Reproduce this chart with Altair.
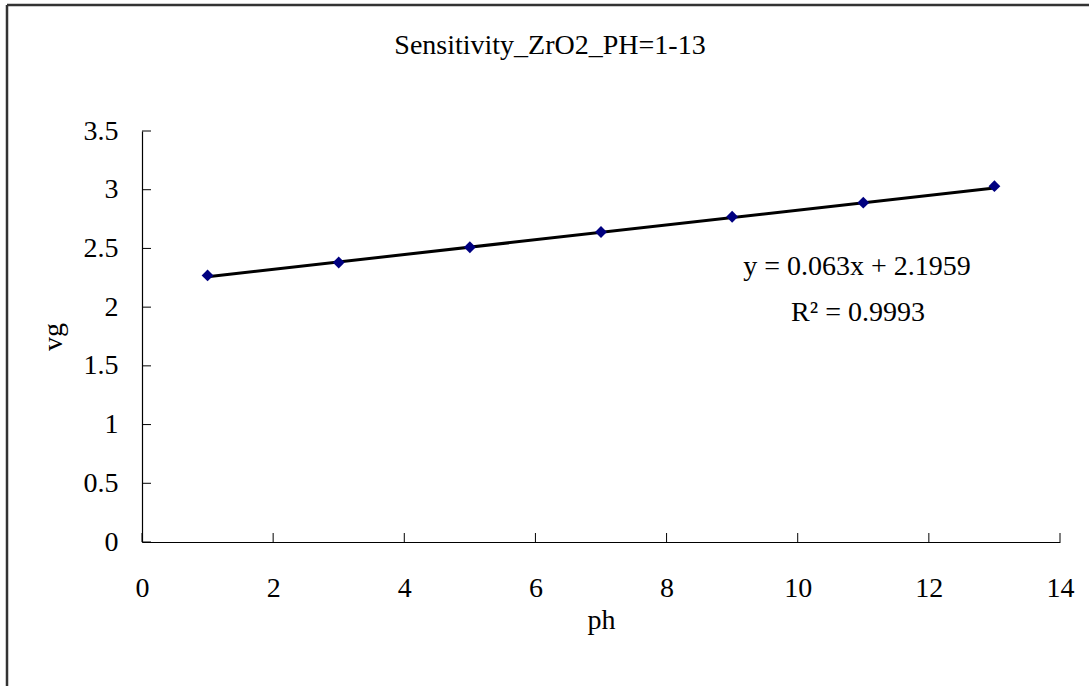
import altair as alt
import pandas as pd

# measured series
ph = [1, 3, 5, 7, 9, 11, 13]
vg = [2.27, 2.38, 2.51, 2.64, 2.77, 2.89, 3.03]

# linear trendline reported on the chart
slope = 0.063
intercept = 2.1959
r_squared = 0.9993

x_ticks = [0, 2, 4, 6, 8, 10, 12, 14]
y_ticks = [0, 0.5, 1, 1.5, 2, 2.5, 3, 3.5]

title_text = "Sensitivity_ZrO2_PH=1-13"
eq_text = f"y = {slope}x + {intercept}"
r2_text = f"R\u00b2 = {r_squared}"

W, H = 918, 411
FONT = "Liberation Serif"
FS = 28

points = pd.DataFrame({"ph": ph, "vg": vg})
trend_x = [ph[0], ph[-1]]
trend = pd.DataFrame({"ph": trend_x, "vg": [slope * x + intercept for x in trend_x]})

x_scale = alt.Scale(domain=[0, 14], nice=False, zero=False)
y_scale = alt.Scale(domain=[0, 3.5], nice=False, zero=False)

x_axis = alt.Axis(values=x_ticks, format="~g", ticks=False, tickSize=0, grid=False,
                  domainColor="black", domainWidth=1.2,
                  labelFont=FONT, labelFontSize=FS, labelColor="black",
                  labelBaseline="middle", labelPadding=46, labelFlush=False,
                  title="ph", titleFont=FONT, titleFontSize=FS, titleFontWeight="normal",
                  titleColor="black", titleY=78, titleBaseline="middle")
y_axis = alt.Axis(values=y_ticks, format="~g", ticks=False, tickSize=0, grid=False,
                  domainColor="black", domainWidth=1.2,
                  labelFont=FONT, labelFontSize=FS, labelColor="black",
                  labelPadding=24, labelFlush=False,
                  title="vg", titleFont=FONT, titleFontSize=FS, titleFontWeight="normal",
                  titleColor="black", titleX=-89, titleY=H / 2, titleAngle=-90,
                  titleBaseline="middle")

base_x = alt.X("ph:Q", scale=x_scale, axis=x_axis)
base_y = alt.Y("vg:Q", scale=y_scale, axis=y_axis)

line = alt.Chart(trend).mark_line(color="black", strokeWidth=3).encode(x=base_x, y=base_y)

dots = alt.Chart(points).mark_point(shape="diamond", filled=True, color="#000080",
                                    size=140, opacity=1).encode(
    x=alt.X("ph:Q", scale=x_scale), y=alt.Y("vg:Q", scale=y_scale))

# inward-pointing tick marks
xt = alt.Chart(pd.DataFrame({"t": x_ticks})).mark_rule(color="black", strokeWidth=1).encode(
    x=alt.X("t:Q", scale=x_scale), y=alt.value(H), y2=alt.value(H - 9))
yt = alt.Chart(pd.DataFrame({"t": y_ticks})).mark_rule(color="black", strokeWidth=1).encode(
    y=alt.Y("t:Q", scale=y_scale), x=alt.value(0), x2=alt.value(9))

def label(text, x, y):
    return alt.Chart(pd.DataFrame({"s": [text]})).mark_text(
        font=FONT, fontSize=FS, color="black", align="center", baseline="middle"
    ).encode(text="s:N", x=alt.value(x), y=alt.value(y))

title = label(title_text, 408, -85)
eq = label(eq_text, 715, 136)
r2 = label(r2_text, 716, 182)

# outer chart frame
frame_top = alt.Chart(pd.DataFrame({"a": [0]})).mark_rule(color="#333333", strokeWidth=2.5).encode(
    x=alt.value(-135), x2=alt.value(960), y=alt.value(-126))
frame_left = alt.Chart(pd.DataFrame({"a": [0]})).mark_rule(color="#333333", strokeWidth=2.5).encode(
    x=alt.value(-135), y=alt.value(-126), y2=alt.value(560))

chart = alt.layer(frame_top, frame_left, line, dots, xt, yt, title, eq, r2).properties(
    width=W, height=H,
    autosize=alt.AutoSizeParams(type="none"),
    padding={"left": 142, "top": 131, "right": 29, "bottom": 144},
    background="white",
).configure_view(stroke=None)

chart.save("out.html", embed_options={"renderer": "svg", "actions": False})
